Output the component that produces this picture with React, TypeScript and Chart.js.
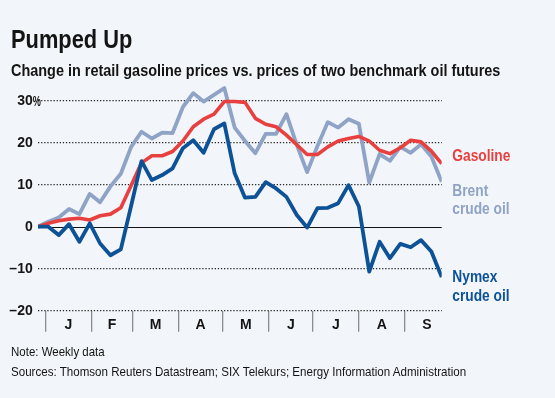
import React, { useEffect, useLayoutEffect, useRef, useState } from 'react';
import { Chart, registerables } from 'chart.js';

Chart.register(...registerables);

// Weekly readings, percent change since the first week of the series
const seriesStart = '2010-12-27';

const gasoline = [
  0, 0.8, 1.4, 1.8, 2.0, 1.6, 2.6, 3.0, 4.5, 9.8,
  15.2, 16.9, 16.9, 17.9, 20.4, 23.8, 25.6, 26.8, 29.8, 29.8,
  29.6, 25.8, 24.4, 23.8, 21.8, 19.5, 17.2, 17.2, 19.0, 20.4,
  21.0, 21.5, 20.4, 18.2, 17.4, 18.8, 20.6, 20.2, 18.0, 15.0,
];

const brent = [
  0, 1.2, 2.2, 4.2, 3.0, 7.8, 5.8, 9.6, 12.6, 19.0,
  22.6, 21.0, 22.4, 22.3, 28.5, 31.8, 29.8, 31.4, 33.0, 23.6,
  20.4, 17.5, 22.1, 22.1, 26.8, 19.5, 13.0, 19.2, 24.9, 23.6,
  25.6, 24.5, 10.5, 17.3, 15.7, 19.0, 17.6, 19.6, 16.7, 10.7,
];

const nymex = [
  0, 0, -2.0, 0.6, -3.6, 0.8, -4.0, -6.8, -5.4, 5.0,
  15.6, 11.1, 12.3, 13.9, 18.7, 20.6, 17.6, 23.2, 24.6, 12.7,
  6.9, 7.1, 10.6, 9.1, 7.1, 2.8, -0.2, 4.4, 4.5, 5.6,
  9.9, 4.8, -10.7, -3.6, -7.5, -4.1, -4.9, -3.2, -5.9, -12.0,
];

const monthLabels = ['J', 'F', 'M', 'A', 'M', 'J', 'J', 'A', 'S'];
const monthStarts = [
  '2011-01-01', '2011-02-01', '2011-03-01', '2011-04-01', '2011-05-01',
  '2011-06-01', '2011-07-01', '2011-08-01', '2011-09-01', '2011-10-01',
];
const yTicks = [-20, -10, 0, 10, 20, 30];

const seriesNames = [['Gasoline'], ['Brent', 'crude oil'], ['Nymex', 'crude oil']];

const BG = '#f2f5f9';
const RED = '#e8403f';
const LIGHT = '#8fa3c6';
const DARK = '#0d5296';
const INK = '#141414';

const SANS = '"Liberation Sans", Arial, sans-serif';

const DAY = 86400000;
const toWeeks = (d: string) => (Date.parse(d + 'T00:00:00Z') - Date.parse(seriesStart + 'T00:00:00Z')) / (7 * DAY);
const boundaries = monthStarts.map(toWeeks);
const midpoints = monthLabels.map((_, i) => (boundaries[i] + Math.min(boundaries[i + 1], 39.9)) / 2);

const toPoints = (arr: number[]) => arr.map((y, x) => ({ x, y }));

// Draws text squeezed horizontally to a condensed look
function condensedText(ctx: CanvasRenderingContext2D, s: string, x: number, y: number, k: number) {
  ctx.save();
  ctx.translate(x, y);
  ctx.scale(k, 1);
  ctx.fillText(s, 0, 0);
  ctx.restore();
}

// Label text placed to the right of each line's final point (offsets in px from that point)
const endLabelPlugin = {
  id: 'endLabels',
  afterDatasetsDraw(chart: any) {
    const { ctx, chartArea } = chart;
    const placements = [
      { ds: 0, dy: -2.8, color: RED },
      { ds: 1, dy: 13.9, color: LIGHT },
      { ds: 2, dy: 5.1, color: DARK },
    ];
    ctx.save();
    ctx.font = `bold 16px ${SANS}`;
    ctx.textAlign = 'left';
    ctx.textBaseline = 'alphabetic';
    placements.forEach((p) => {
      const meta = chart.getDatasetMeta(p.ds);
      const last = meta.data[meta.data.length - 1];
      ctx.fillStyle = p.color;
      seriesNames[p.ds].forEach((line, i) => {
        condensedText(ctx, line, chartArea.right + 10.6, last.y + p.dy + i * 18.5, 0.86);
      });
    });
    ctx.restore();
  },
};

// Solid baseline at zero, under the series lines
const zeroLinePlugin = {
  id: 'zeroLine',
  beforeDatasetsDraw(chart: any) {
    const { ctx, chartArea, scales } = chart;
    const y = Math.round(scales.y.getPixelForValue(0)) + 0.5;
    ctx.save();
    ctx.strokeStyle = INK;
    ctx.lineWidth = 1.2;
    ctx.beginPath();
    ctx.moveTo(chartArea.left, y);
    ctx.lineTo(chartArea.right, y);
    ctx.stroke();
    ctx.restore();
  },
};

// Percent sign after the top tick label
const percentPlugin = {
  id: 'percentSign',
  afterDraw(chart: any) {
    const { ctx, chartArea, scales } = chart;
    const y = scales.y.getPixelForValue(yTicks[yTicks.length - 1]);
    ctx.save();
    ctx.font = `bold 14px ${SANS}`;
    ctx.fillStyle = INK;
    ctx.textAlign = 'left';
    ctx.textBaseline = 'alphabetic';
    condensedText(ctx, '%', chartArea.left - 5.3, y + 5, 0.65);
    ctx.restore();
  },
};

// A line of text stretched or squeezed to an exact width
function FitText({ width, style, children }: { width: number; style: React.CSSProperties; children: React.ReactNode }) {
  const ref = useRef<HTMLSpanElement | null>(null);
  const [k, setK] = useState(1);
  useLayoutEffect(() => {
    const el = ref.current;
    if (el && el.offsetWidth > 0) setK(width / el.offsetWidth);
  }, [width]);
  return (
    <span
      ref={ref}
      style={{
        position: 'absolute',
        left: 11,
        whiteSpace: 'nowrap',
        color: INK,
        display: 'inline-block',
        transform: `scaleX(${k})`,
        transformOrigin: '0 0',
        ...style,
      }}
    >
      {children}
    </span>
  );
}

export default function App() {
  const canvasRef = useRef<HTMLCanvasElement | null>(null);

  useEffect(() => {
    document.body.style.margin = '0';
    document.body.style.background = BG;
    const canvas = canvasRef.current;
    if (!canvas) return;

    const chart = new Chart(canvas, {
      type: 'line',
      data: {
        datasets: [
          {
            label: 'Gasoline',
            data: toPoints(gasoline),
            borderColor: RED,
            borderWidth: 3.6,
            order: 1,
          },
          {
            label: 'Brent crude oil',
            data: toPoints(brent),
            borderColor: LIGHT,
            borderWidth: 3.8,
            order: 2,
          },
          {
            label: 'Nymex crude oil',
            data: toPoints(nymex),
            borderColor: DARK,
            borderWidth: 3.8,
            order: 0,
          },
        ],
      },
      options: {
        responsive: false,
        animation: false,
        devicePixelRatio: 1,
        layout: { padding: { left: 0, right: 113.3, top: 79.7, bottom: 0 } },
        elements: {
          point: { radius: 0, hoverRadius: 0 },
          line: { tension: 0, borderJoinStyle: 'round', borderCapStyle: 'butt', fill: false },
        },
        plugins: {
          legend: { display: false },
          tooltip: { enabled: false },
          title: { display: false },
        },
        scales: {
          x: {
            type: 'linear',
            min: 0,
            max: gasoline.length - 1,
            afterBuildTicks(scale: any) {
              const ticks: any[] = [];
              monthLabels.forEach((_, i) => {
                ticks.push({ value: boundaries[i] });
                ticks.push({ value: midpoints[i] });
              });
              scale.ticks = ticks;
            },
            afterFit(scale: any) {
              scale.height = 398 - 310.7;
            },
            grid: {
              drawOnChartArea: false,
              drawTicks: true,
              tickLength: 21,
              lineWidth: 1.3,
              color: (ctx: any) => (ctx.index % 2 === 0 ? '#8c8c8c' : 'rgba(0,0,0,0)'),
            },
            border: { display: false },
            ticks: {
              autoSkip: false,
              maxRotation: 0,
              padding: -14.6,
              color: INK,
              font: { family: SANS, size: 14, weight: 'bold' },
              callback: (_v: any, i: number) => (i % 2 === 1 ? monthLabels[(i - 1) / 2] : ''),
            },
          },
          y: {
            min: yTicks[0],
            max: 35,
            afterBuildTicks(scale: any) {
              scale.ticks = yTicks.map((value) => ({ value }));
            },
            afterFit(scale: any) {
              scale.width = 38;
            },
            grid: {
              drawTicks: false,
              lineWidth: 1.3,
              color: (ctx: any) => (ctx.tick && ctx.tick.value === 0 ? 'rgba(0,0,0,0)' : '#2a2a2a'),
            },
            border: { display: false, dash: [1.3, 1.8] },
            ticks: {
              padding: 5.3,
              color: INK,
              font: { family: SANS, size: 14, weight: 'bold' },
              callback: (v: any) => (v < 0 ? '\u2013' + Math.abs(v) : String(v)),
            },
          },
        },
      },
      plugins: [zeroLinePlugin, endLabelPlugin, percentPlugin],
    } as any);

    return () => chart.destroy();
  }, []);

  return (
    <div style={{ position: 'relative', width: 555, height: 398, background: BG, overflow: 'hidden' }}>
      <canvas ref={canvasRef} width={555} height={398} style={{ position: 'absolute', left: 0, top: 0, width: 555, height: 398 }} />
      <FitText width={121} style={{ top: 25.7, font: `bold 26px/26px ${SANS}` }}>Pumped Up</FitText>
      <FitText width={489} style={{ top: 63.2, font: `bold 16px/16px ${SANS}` }}>
        Change in retail gasoline prices vs. prices of two benchmark oil futures
      </FitText>
      <FitText width={94} style={{ top: 346.4, font: `12.6px/12.6px ${SANS}` }}>Note: Weekly data</FitText>
      <FitText width={455} style={{ top: 365.7, font: `12.6px/12.6px ${SANS}` }}>
        Sources: Thomson Reuters Datastream; SIX Telekurs; Energy Information Administration
      </FitText>
    </div>
  );
}
